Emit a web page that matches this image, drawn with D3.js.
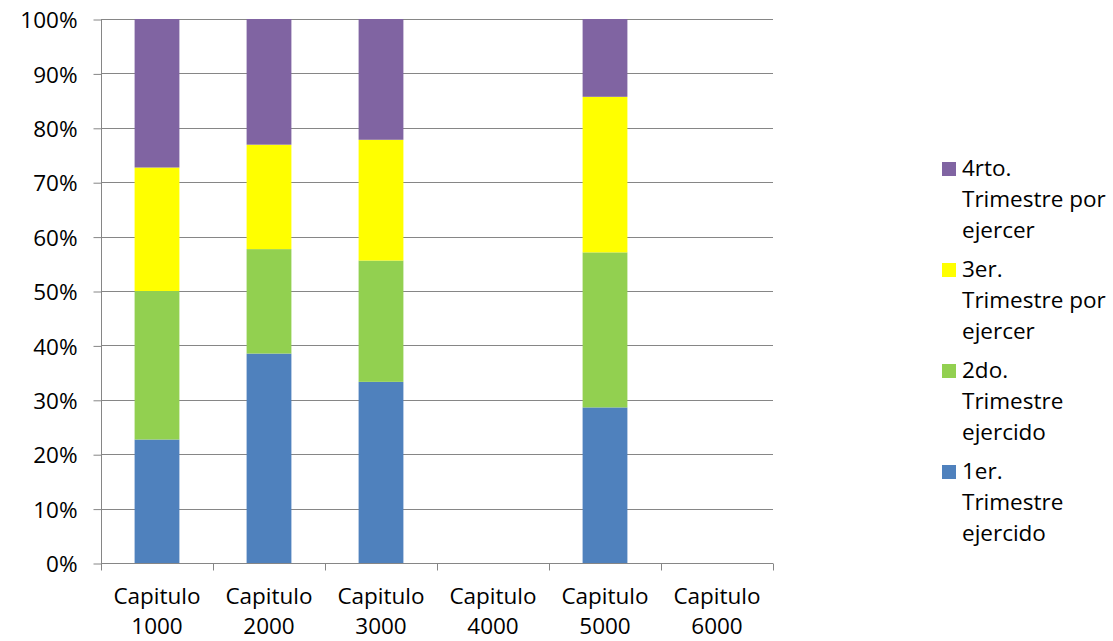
<!DOCTYPE html>
<html>
<head>
<meta charset="utf-8">
<script src="https://cdn.jsdelivr.net/npm/d3@7"></script>
<style>
  html, body { margin: 0; padding: 0; background: #fff; }
  svg { display: block; }
  text { font-family: "Open Sans", sans-serif; font-size: 22.5px; fill: #000; }
</style>
</head>
<body>
<svg id="chart" width="1113" height="641"></svg>
<script>
// ---- data ----
const categories = ["Capitulo 1000", "Capitulo 2000", "Capitulo 3000", "Capitulo 4000", "Capitulo 5000", "Capitulo 6000"];
const seriesNames = ["1er. Trimestre ejercido", "2do. Trimestre ejercido", "3er. Trimestre por ejercer", "4rto. Trimestre por ejercer"];
const q1 = [22.7, 38.5, 33.3, 0, 28.6, 0];
const q2 = [27.3, 19.2, 22.3, 0, 28.5, 0];
const q3 = [22.7, 19.2, 22.2, 0, 28.6, 0];
const q4 = [27.3, 23.1, 22.2, 0, 14.3, 0];
const seriesColors = ["#4F81BD", "#92D050", "#FFFF00", "#8064A2"];
const yTicks = [0, 10, 20, 30, 40, 50, 60, 70, 80, 90, 100];
const legendLines = [
  ["4rto.", "Trimestre por", "ejercer"],
  ["3er.", "Trimestre por", "ejercer"],
  ["2do.", "Trimestre", "ejercido"],
  ["1er.", "Trimestre", "ejercido"]
];

// ---- layout ----
const svg = d3.select("#chart");
const plot = { left: 101, right: 773, top: 19, bottom: 563 };

const x = d3.scaleBand().domain(categories).range([plot.left, plot.right]).paddingInner(0.6).paddingOuter(0.3);
const xOuter = d3.scaleBand().domain(categories).range([plot.left, plot.right]);
const y = d3.scaleLinear().domain([0, 100]).range([plot.bottom, plot.top]).clamp(true);

const gridColor = "#868686";

// gridlines
svg.append("g").selectAll("line").data(yTicks.filter(d => d > 0)).join("line")
  .attr("x1", plot.left).attr("x2", plot.right)
  .attr("y1", d => Math.round(y(d)) + 0.5).attr("y2", d => Math.round(y(d)) + 0.5)
  .attr("stroke", gridColor).attr("stroke-width", 1);

// stacked bars
const rows = categories.map((c, i) => ({ cat: c, s0: q1[i], s1: q2[i], s2: q3[i], s3: q4[i] }));
const stack = d3.stack().keys(["s0", "s1", "s2", "s3"]);
const stacked = stack(rows);
svg.append("g").selectAll("g").data(stacked).join("g")
  .attr("fill", (d, i) => seriesColors[i])
  .selectAll("rect").data(d => d.filter(p => p[1] - p[0] > 0)).join("rect")
  .attr("x", d => x(d.data.cat))
  .attr("width", x.bandwidth())
  .attr("y", d => y(d[1]))
  .attr("height", d => y(d[0]) - y(d[1]));

// y axis
const yAxis = d3.axisLeft(y).tickValues(yTicks).tickFormat(d => d + "%").tickSize(8).tickPadding(16);
const gy = svg.append("g").attr("transform", `translate(${plot.left + 0.5},0.5)`).call(yAxis);
gy.select(".domain").attr("stroke", gridColor).attr("d", `M0,${plot.top}V${plot.bottom}`);
gy.selectAll(".tick line").attr("stroke", gridColor);
gy.selectAll(".tick text").attr("font-family", "Open Sans").attr("font-size", 22.5).attr("fill", "#000").attr("dy", "0.36em").attr("x", -24);

// x axis
const gx = svg.append("g").attr("transform", `translate(0,${plot.bottom + 0.5})`);
gx.append("line").attr("x1", plot.left).attr("x2", plot.right).attr("y1", 0).attr("y2", 0).attr("stroke", gridColor);
const boundaries = categories.map(c => xOuter(c)).concat([plot.right]);
gx.selectAll("line.tk").data(boundaries).join("line").attr("class", "tk")
  .attr("x1", d => Math.round(d) + 0.5).attr("x2", d => Math.round(d) + 0.5)
  .attr("y1", 0).attr("y2", 7).attr("stroke", gridColor);
const labels = gx.selectAll("text").data(categories).join("text")
  .attr("text-anchor", "middle")
  .attr("transform", d => `translate(${xOuter(d) + xOuter.bandwidth() / 2},0)`);
labels.append("tspan").attr("x", 0).attr("y", 40.5).text(d => d.split(" ")[0]);
labels.append("tspan").attr("x", 0).attr("y", 70.5).text(d => d.split(" ")[1]);

// legend
const lg = svg.append("g").attr("transform", "translate(942,0)");
const legendItems = lg.selectAll("g").data(legendLines).join("g")
  .attr("transform", (d, i) => `translate(0,${176 + i * 101})`);
legendItems.append("rect").attr("x", 0).attr("y", -14).attr("width", 14).attr("height", 14)
  .attr("fill", (d, i) => seriesColors[3 - i]);
legendItems.each(function(lines) {
  const t = d3.select(this).append("text").attr("x", 20);
  lines.forEach((ln, j) => t.append("tspan").attr("x", 20).attr("y", j * 31).text(ln));
});
</script>
</body>
</html>
